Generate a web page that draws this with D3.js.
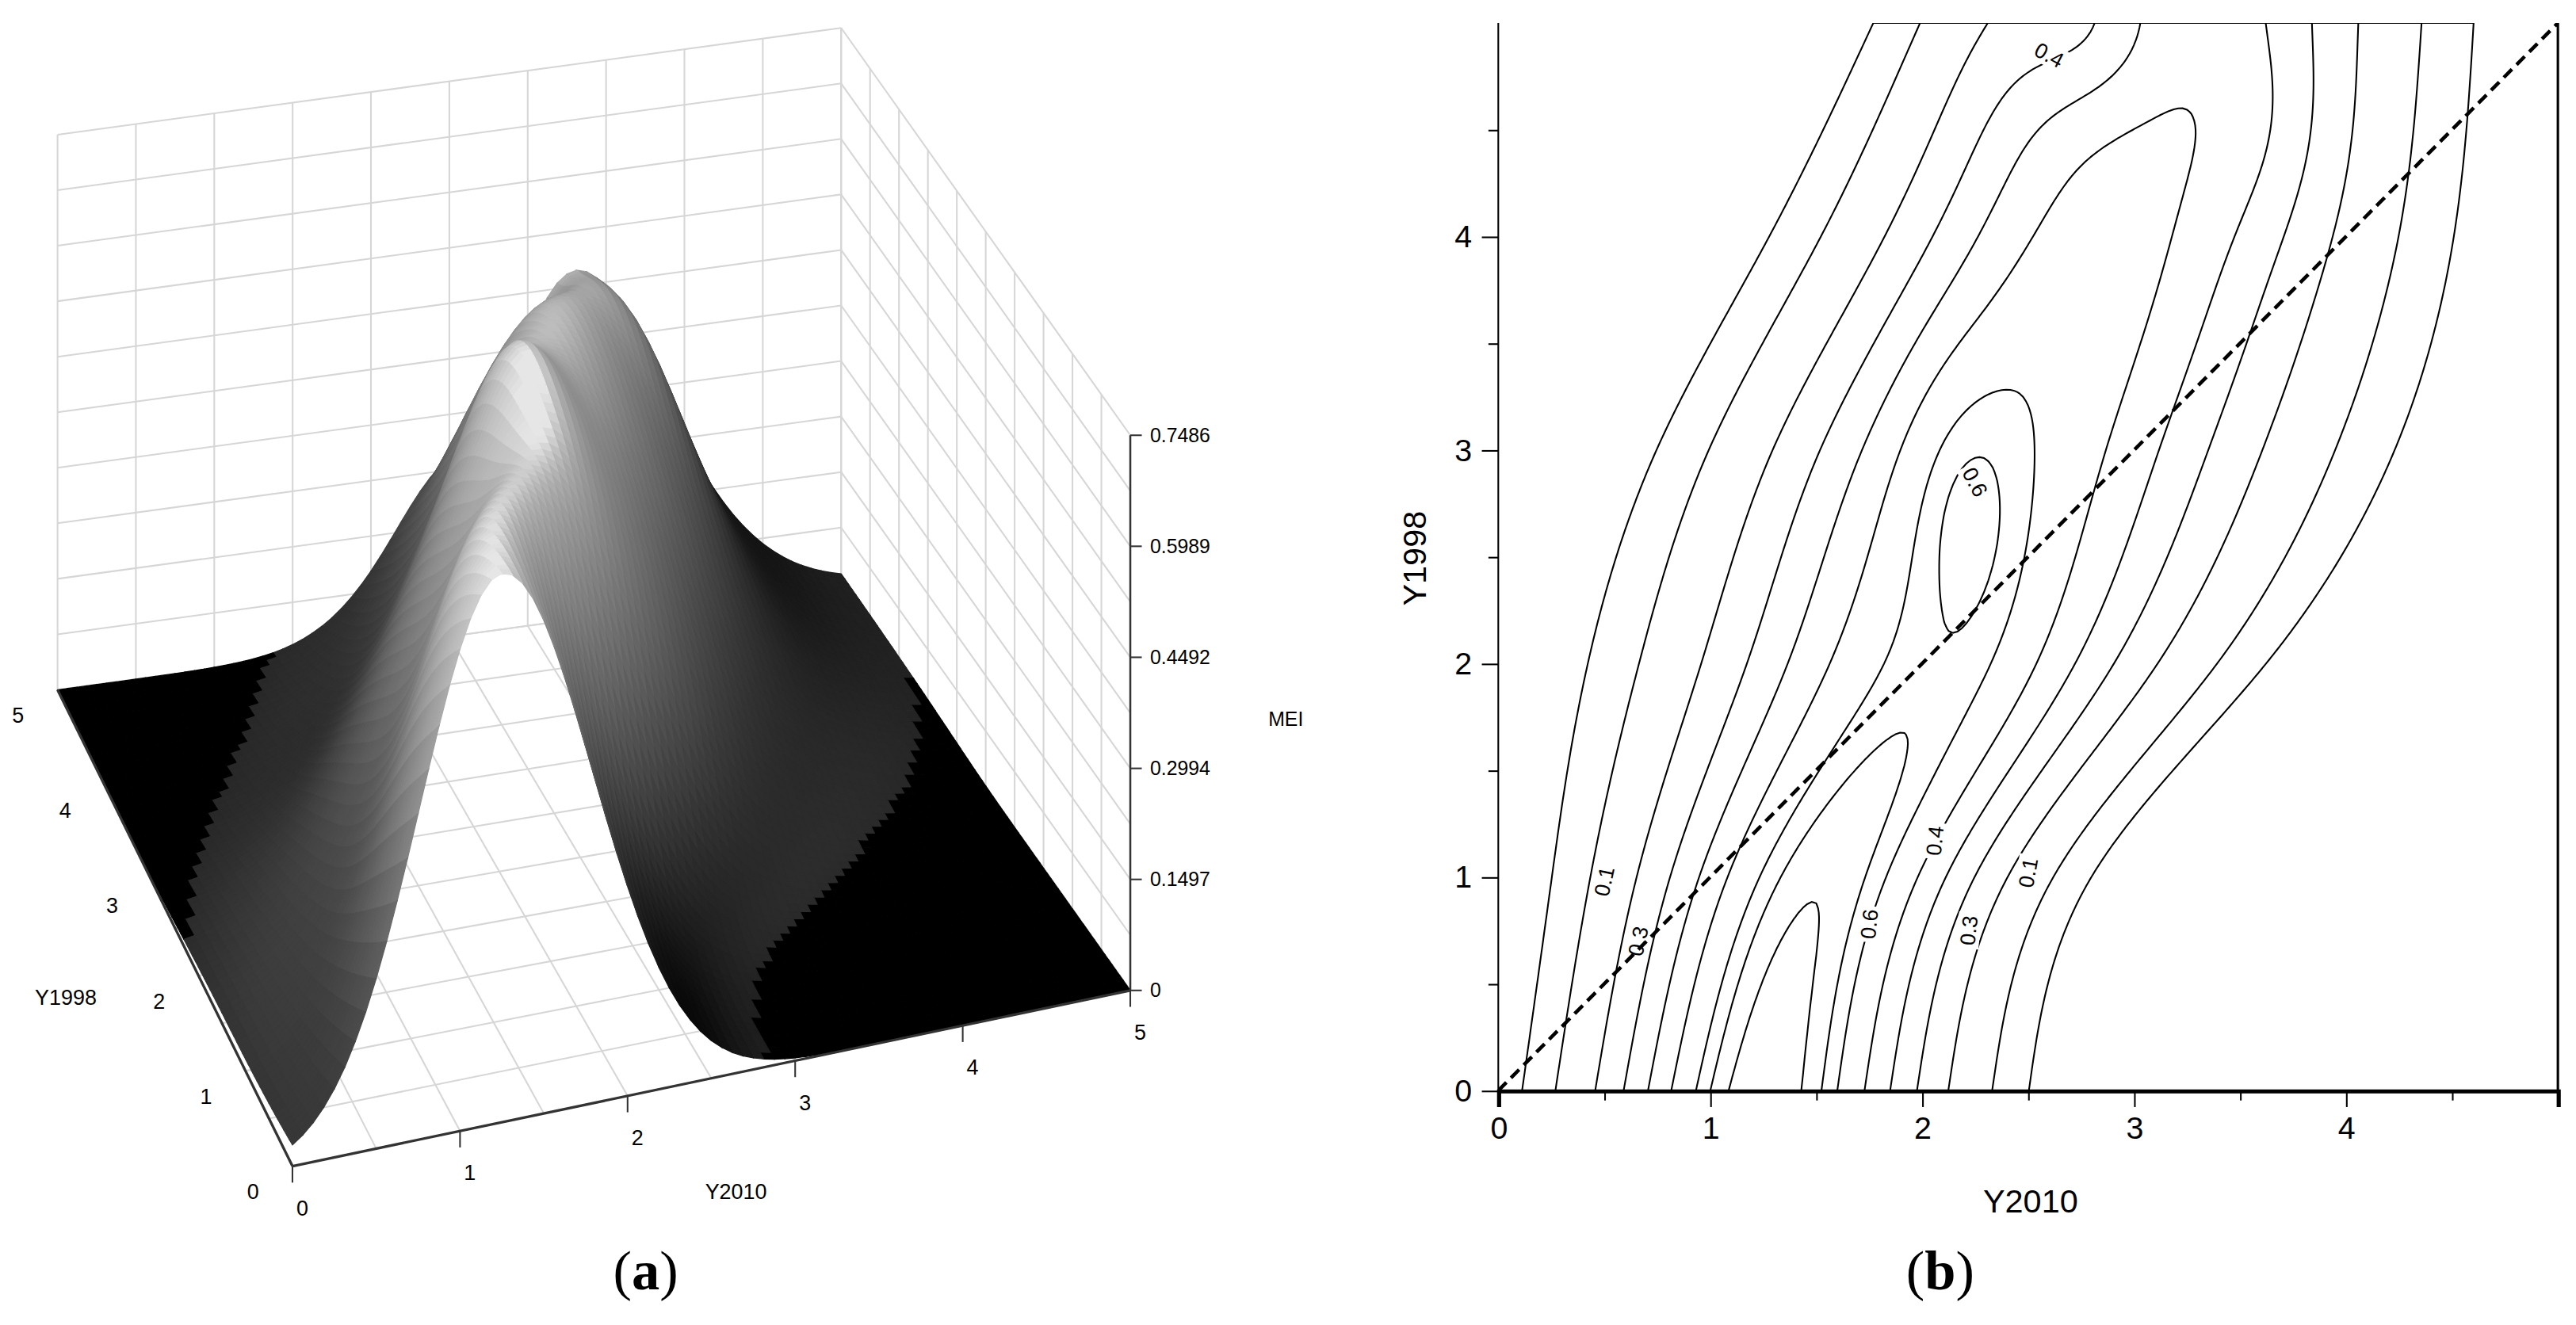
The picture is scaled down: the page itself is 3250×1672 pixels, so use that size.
<!DOCTYPE html>
<html><head><meta charset="utf-8">
<script src="https://cdn.jsdelivr.net/npm/d3@7"></script>
<style>html,body{margin:0;padding:0;background:#fff}svg{display:block}</style>
</head><body>
<svg id="c" width="3250" height="1672" viewBox="0 0 1568 806.7"></svg>
<script>
// ---- data ----
const ridgeY      = [0, 1, 2, 3, 4, 5];
const ridgeCenter = [1.25, 1.45, 2.15, 2.3, 2.9, 3.1];
const ridgeHeight = [0.74, 0.70, 0.62, 0.60, 0.55, 0.50];
const ridgeSigmaL = [0.49, 0.52, 0.78, 0.72, 0.73, 0.62];
const ridgeSigmaR = [0.54, 0.52, 0.69, 0.89, 0.75, 0.70];
const bumpX  = [2.2, 2.8, 3.6];
const bumpY  = [2.75, 5.0, 4.55];
const bumpSX = [0.2, 0.25, 0.25];
const bumpSY = [0.45, 0.3, 0.35];
const bumpH  = [0.07, -0.15, 0.05];
const contourLevels = [0.05, 0.1, 0.2, 0.3, 0.4, 0.5, 0.6, 0.65, 0.7];
const zTicks = [0, 0.1497, 0.2994, 0.4492, 0.5989, 0.7486];
const axisTicks3D = [0, 1, 2, 3, 4, 5];
const axisTicks2D = [0, 1, 2, 3, 4];
const contourLabels = [
  {t:"0.1", x:0.50, y:0.98, a:-78}, {t:"0.3", x:0.66, y:0.70, a:-78},
  {t:"0.6", x:1.75, y:0.78, a:-84}, {t:"0.4", x:2.06, y:1.17, a:-84},
  {t:"0.3", x:2.22, y:0.75, a:-84}, {t:"0.1", x:2.50, y:1.02, a:-80},
  {t:"0.6", x:2.25, y:2.85, a:62},  {t:"0.4", x:2.6, y:4.85, a:28}
];

const svg = d3.select("#c");
const FONT = "Arial, 'Liberation Sans', sans-serif";

const interp = {};
[["c",ridgeCenter],["h",ridgeHeight],["sl",ridgeSigmaL],["sr",ridgeSigmaR]].forEach(([k,a])=>{
  const arr=[2*a[0]-a[1], ...a, 2*a[a.length-1]-a[a.length-2]];
  interp[k]=d3.interpolateBasis(arr);
});
function par(k,y){ const n=ridgeY.length; return interp[k]((y/5*(n-1)+1)/(n+1)); }
function f(x, y){
  const c = par("c",y), h = par("h",y);
  const s = x < c ? par("sl",y) : par("sr",y);
  let v = h*Math.exp(-((x-c)**2)/(2*s*s));
  for (let k=0;k<bumpX.length;k++){
    v += bumpH[k]*Math.exp(-((x-bumpX[k])**2)/(2*bumpSX[k]**2) - ((y-bumpY[k])**2)/(2*bumpSY[k]**2));
  }
  return Math.max(0, v);
}

// ================= (b) contour =================
const xs = d3.scaleLinear().domain([0,5]).range([912,1557]);
const ys = d3.scaleLinear().domain([0,5]).range([664,14]);
const N = 241;
const vals = new Array(N*N);
for (let j=0;j<N;j++) for (let i=0;i<N;i++) vals[j*N+i] = f(i*5/(N-1), j*5/(N-1));
const contours = d3.contours().size([N,N]).thresholds(contourLevels)(vals);
const proj = d3.geoTransform({point:function(px,py){
  const dx = Math.max(0,Math.min(5,(px-0.5)*5/(N-1))), dy = Math.max(0,Math.min(5,(py-0.5)*5/(N-1)));
  this.stream.point(xs(dx), ys(dy));
}});
const path = d3.geoPath(proj);
svg.append("defs").append("clipPath").attr("id","clipB").append("rect")
  .attr("x",912).attr("y",14).attr("width",645).attr("height",650);
const gB = svg.append("g").attr("clip-path","url(#clipB)");
gB.selectAll("path.ct").data(contours).join("path")
  .attr("d", path).attr("fill","none").attr("stroke","#000").attr("stroke-width",1);
const lg = gB.selectAll("g.lab").data(contourLabels).join("g")
  .attr("transform", d=>`translate(${xs(d.x)},${ys(d.y)}) rotate(${d.a})`);
lg.append("rect").attr("x",-11).attr("y",-7).attr("width",22).attr("height",14).attr("fill","#fff");
lg.append("text").text(d=>d.t).attr("text-anchor","middle").attr("dy","0.35em")
  .attr("font-family",FONT).attr("font-size",13);
gB.append("line").attr("x1",xs(0)).attr("y1",ys(0)).attr("x2",xs(5)).attr("y2",ys(5))
  .attr("stroke","#000").attr("stroke-width",2.2).attr("stroke-dasharray","7,4");
const fmt = d3.format("d");
const gx = svg.append("g").attr("transform","translate(0,664)")
  .call(d3.axisBottom(xs).tickValues(axisTicks2D).tickFormat(fmt).tickSize(10).tickPadding(6));
gx.select(".domain").attr("stroke-width",2.5);
gx.selectAll("text").attr("font-family",FONT).attr("font-size",19).attr("fill","#000");
svg.append("g").attr("transform","translate(0,664)").call(d3.axisBottom(xs).tickValues(d3.range(0.5,5,1)).tickSize(6).tickFormat(""))
  .select(".domain").remove();
const gy = svg.append("g").attr("transform","translate(912,0)")
  .call(d3.axisLeft(ys).tickValues(axisTicks2D).tickFormat(fmt).tickSize(10).tickPadding(6));
gy.selectAll("text").attr("font-family",FONT).attr("font-size",19).attr("fill","#000");
gy.select(".domain").attr("d","M0,14V664");
svg.append("g").attr("transform","translate(912,0)").call(d3.axisLeft(ys).tickValues(d3.range(0.5,5,1)).tickSize(6).tickFormat(""))
  .select(".domain").remove();
svg.append("line").attr("x1",1557).attr("x2",1557).attr("y1",14).attr("y2",664).attr("stroke","#000").attr("stroke-width",1.5);
svg.append("text").text("Y2010").attr("x",1236).attr("y",738).attr("text-anchor","middle")
  .attr("font-family",FONT).attr("font-size",20);
svg.append("text").text("Y1998").attr("transform","translate(868,340) rotate(-90)").attr("text-anchor","middle")
  .attr("font-family",FONT).attr("font-size",20);

// ================= (a) 3D surface =================
const O=[178,710], PX=[688,603], PY=[35,420], PXY=[512,355];
const zPx = d3.scaleLinear().domain([0,0.7486]).range([0,338]);
function P(x,y,z){
  const u=x/5, v=y/5;
  const sx = (1-u)*(1-v)*O[0]+u*(1-v)*PX[0]+(1-u)*v*PY[0]+u*v*PXY[0];
  const sy = (1-u)*(1-v)*O[1]+u*(1-v)*PX[1]+(1-u)*v*PY[1]+u*v*PXY[1];
  return [sx, sy - zPx(z)];
}
const gA = svg.append("g");
const zmax = zTicks[zTicks.length-1];
const wallStroke = "#d6d6d6";
function line3(a,b,stroke,w){
  const p=P(...a), q=P(...b);
  gA.append("line").attr("x1",p[0]).attr("y1",p[1]).attr("x2",q[0]).attr("y2",q[1])
    .attr("stroke",stroke).attr("stroke-width",w);
}
const g05 = d3.range(0,5.01,0.5);
const zg = d3.range(0,11).map(i=>i*zmax/10);
g05.forEach(t=>{ line3([t,5,0],[t,5,zmax],wallStroke,1); line3([5,t,0],[5,t,zmax],wallStroke,1);
  line3([t,0,0],[t,5,0],wallStroke,1); line3([0,t,0],[5,t,0],wallStroke,1); });
zg.forEach(z=>{ line3([0,5,z],[5,5,z],wallStroke,1); line3([5,0,z],[5,5,z],wallStroke,1); });

const M = 80, step = 5/M, K = 5;
const L = (()=>{const v=[-0.35,-0.55,0.75];const n=Math.hypot(...v);return v.map(a=>a/n);})();
const quads=[];
for (let j=0;j<M;j++) for (let i=0;i<M;i++){
  const x0=i*step, y0=j*step, x1=x0+step, y1=y0+step;
  const z00=f(x0,y0), z10=f(x1,y0), z01=f(x0,y1), z11=f(x1,y1);
  const fx=((z10+z11)-(z00+z01))/(2*step), fy=((z01+z11)-(z00+z10))/(2*step);
  const n=[-K*fx,-K*fy,1], nl=Math.hypot(...n);
  const dot=(n[0]*L[0]+n[1]*L[1]+n[2]*L[2])/nl;
  const zm=(z00+z10+z01+z11)/4;
  let b = 0.12 + 0.85*Math.pow(zm/0.75,0.7) + 0.45*(dot-L[2]);
  if (zm < 0.01) b = 0.0;
  b = Math.max(0, Math.min(0.9, b));
  const pts=[P(x0,y0,z00),P(x1,y0,z10),P(x1,y1,z11),P(x0,y1,z01)];
  quads.push({pts, depth: (x0+x1)*0.35+(y0+y1), col: d3.rgb(b*255,b*255,b*255).formatHex()});
}
quads.sort((a,b)=>b.depth-a.depth);
gA.selectAll("path.q").data(quads).join("path")
  .attr("d",d=>"M"+d.pts.map(p=>p.join(",")).join("L")+"Z")
  .attr("fill",d=>d.col).attr("stroke",d=>d.col).attr("stroke-width",0.6);

line3([0,0,0],[5,0,0],"#333",1.6);
line3([0,0,0],[0,5,0],"#333",1.6);
line3([5,0,0],[5,0,zmax],"#333",1.2);
axisTicks3D.forEach(t=>{
  const p=P(t,0,0);
  gA.append("line").attr("x1",p[0]).attr("y1",p[1]).attr("x2",p[0]).attr("y2",p[1]+10).attr("stroke","#333");
  gA.append("text").text(t).attr("x",p[0]+6).attr("y",p[1]+30).attr("font-family",FONT).attr("font-size",13).attr("text-anchor","middle");
  const q=P(0,t,0);
  gA.append("text").text(t).attr("x",q[0]-24).attr("y",q[1]+20).attr("font-family",FONT).attr("font-size",13).attr("text-anchor","middle");
});
zTicks.forEach(z=>{
  const p=P(5,0,z);
  gA.append("line").attr("x1",p[0]).attr("y1",p[1]).attr("x2",p[0]+7).attr("y2",p[1]).attr("stroke","#333");
  gA.append("text").text(z).attr("x",p[0]+12).attr("y",p[1]+4).attr("font-family",FONT).attr("font-size",12);
});
gA.append("text").text("MEI").attr("x",772).attr("y",442).attr("font-family",FONT).attr("font-size",12);
gA.append("text").text("Y2010").attr("x",448).attr("y",730).attr("text-anchor","middle").attr("font-family",FONT).attr("font-size",13);
gA.append("text").text("Y1998").attr("x",40).attr("y",612).attr("text-anchor","middle").attr("font-family",FONT).attr("font-size",13);

[["a",393],["b",1181]].forEach(([l,x])=>{
  const t=svg.append("text").attr("x",x).attr("y",785).attr("text-anchor","middle")
    .attr("font-family","'Liberation Serif', 'DejaVu Serif', serif").attr("font-size",34);
  t.append("tspan").text("(");
  t.append("tspan").text(l).attr("font-weight","bold");
  t.append("tspan").text(")");
});
</script>
</body></html>
